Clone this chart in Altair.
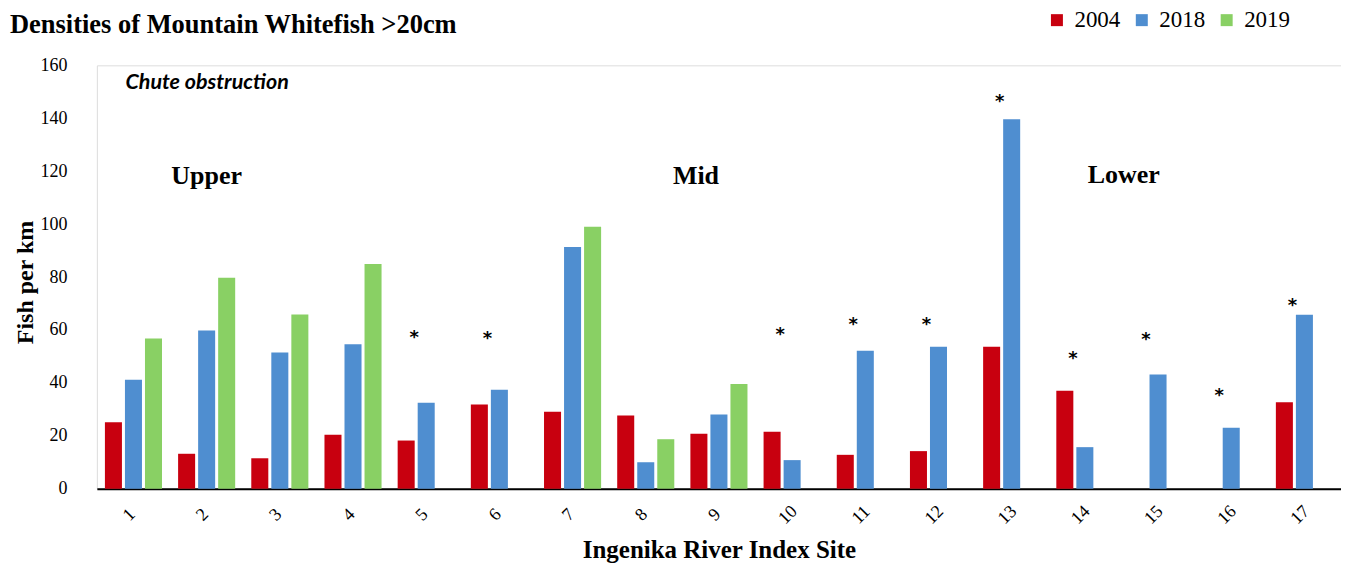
import altair as alt
import pandas as pd

sites = [str(i) for i in range(1, 18)]
years = ["2004", "2018", "2019"]
v2004 = [25.1, 13.2, 11.5, 20.4, 18.2, 31.8, 29.1, 27.7, 20.8, 21.5, 12.8, 14.2, 53.6, 37.0, None, None, 32.7]
v2018 = [41.2, 59.8, 51.5, 54.6, 32.5, 37.4, 91.3, 10.0, 28.0, 10.8, 52.1, 53.6, 139.6, 15.7, 43.2, 23.0, 65.7]
v2019 = [56.8, 79.7, 65.8, 84.9, None, None, 99.0, 18.7, 39.6, None, None, None, None, None, None, None, None]
colors = ["#C8000F", "#4F8ED0", "#89D064"]

star_sites = ["5", "6", "10", "11", "12", "13", "14", "15", "16", "17"]
star_heights = [57.8, 57.2, 58.9, 62.8, 62.8, 147.0, 49.7, 56.8, 35.8, 69.8]

y_ticks = [0, 20, 40, 60, 80, 100, 120, 140, 160]

rows = []
for yr, vals in zip(years, [v2004, v2018, v2019]):
    for s, v in zip(sites, vals):
        if v is not None:
            rows.append({"site": s, "year": yr, "value": v})
bars_df = pd.DataFrame(rows)
star_df = pd.DataFrame({"site": star_sites, "value": star_heights, "label": ["*"] * len(star_sites)})

SERIF = "Liberation Serif"

xenc = alt.X(
    "site:N",
    sort=sites,
    title="Ingenika River Index Site",
    scale=alt.Scale(domain=sites, paddingInner=0.22, paddingOuter=0.11),
    axis=alt.Axis(
        labelAngle=315, labelAlign="center", labelBaseline="middle",
        labelPadding=26, labelOffset=-4, ticks=False, tickSize=0,
        domainColor="black", domainWidth=2, grid=False,
        labelFont=SERIF, labelFontSize=18, labelColor="black",
        titleFont=SERIF, titleFontSize=25, titleFontWeight="bold", titleColor="black",
        titleY=69, titleBaseline="alphabetic",
    ),
)
yenc = alt.Y(
    "value:Q",
    title="Fish per km",
    scale=alt.Scale(domain=[0, 160], nice=False),
    axis=alt.Axis(
        values=y_ticks, domain=False, ticks=False, grid=False,
        labelPadding=30, labelFont=SERIF, labelFontSize=18, labelColor="black",
        titleFont=SERIF, titleFontSize=24, titleFontWeight="bold", titleColor="black",
        titleX=-64, titleY=217, titleBaseline="alphabetic",
    ),
)

bars = alt.Chart(bars_df).mark_bar().encode(
    x=xenc,
    y=yenc,
    xOffset=alt.XOffset("year:N", sort=years,
                        scale=alt.Scale(domain=years, paddingInner=0.15, paddingOuter=0)),
    color=alt.Color(
        "year:N",
        scale=alt.Scale(domain=years, range=colors),
        legend=alt.Legend(
            orient="none", legendX=950, legendY=-57, direction="horizontal",
            title=None, symbolType="square", symbolSize=144, symbolStrokeWidth=0,
            labelFont=SERIF, labelFontSize=23, labelColor="black",
            columnPadding=10, labelOffset=6, padding=0,
        ),
    ),
)

stars = alt.Chart(star_df).mark_text(
    font="DejaVu Sans", fontSize=18, fontWeight="bold", color="black",
    baseline="middle", dx=-12, dy=2,
).encode(x=xenc, y=yenc, text="label:N")

def note(text, site, height, dx, font, size, italic=False, align="center"):
    df = pd.DataFrame({"site": [site], "value": [height], "label": [text]})
    kw = dict(font=font, fontSize=size, fontWeight="bold", color="black",
              baseline="middle", align=align, dx=dx)
    if italic:
        kw["fontStyle"] = "italic"
    return alt.Chart(df).mark_text(**kw).encode(x=xenc, y=yenc, text="label:N")

chute = note("Chute obstruction", "1", 153.2, -8, "Lato", 21.5, italic=True, align="left")
upper = note("Upper", "2", 118.3, 0, SERIF, 26)
mid = note("Mid", "9", 118.3, -23, SERIF, 26)
lower = note("Lower", "14", 118.7, 39, SERIF, 26)

chart = alt.layer(bars, stars, chute, upper, mid, lower).properties(
    width=1246, height=424,
    padding={"left": 89, "top": 57, "right": 0, "bottom": 76},
    autosize=alt.AutoSizeParams(type="none"),
    title=alt.TitleParams(
        "Densities of Mountain Whitefish >20cm", anchor="start", frame="group",
        dx=-87, offset=0, dy=30, font=SERIF, fontSize=26.5, fontWeight="bold", color="black",
    ),
).configure_view(stroke=None).configure(background="white")

chart.save("out.html", embed_options={"renderer": "svg", "actions": False})
